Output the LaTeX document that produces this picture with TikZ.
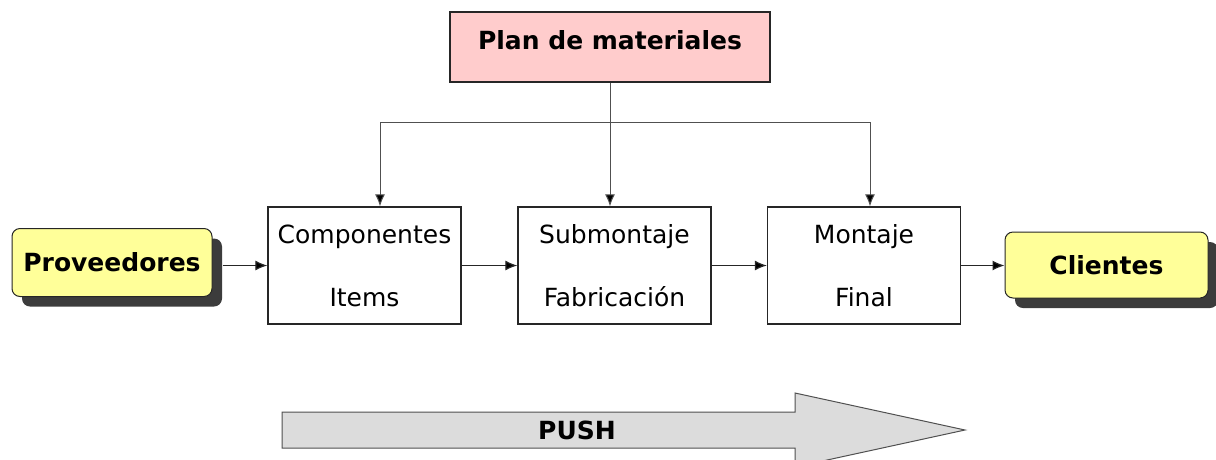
\documentclass[tikz,border=0pt]{standalone}
\usepackage{fontspec}
\setmainfont{DejaVu Sans}
\usetikzlibrary{shadows,arrows.meta}
\definecolor{planpink}{HTML}{FFCCCC}
\definecolor{provyellow}{HTML}{FFFF99}
\definecolor{shadowgray}{HTML}{3C3C3C}
\definecolor{linegray}{HTML}{505050}
\definecolor{pushgray}{HTML}{DCDCDC}
\tikzset{
  txt/.style={font=\fontsize{25}{30}\selectfont},
  btxt/.style={font=\fontsize{25}{30}\selectfont\bfseries},
  planbox/.style={draw=black!85, line width=1.3pt, fill=planpink, minimum width=320pt, minimum height=70pt, inner sep=0pt},
  procbox/.style={draw=black!85, line width=1.3pt, fill=white, minimum width=193pt, minimum height=117pt, inner sep=0pt, align=center, font=\fontsize{25}{63}\selectfont},
  endbox/.style={draw=black!85, line width=1pt, fill=provyellow, rounded corners=8pt, inner sep=0pt, font=\fontsize{25}{30}\selectfont\bfseries,
    drop shadow={shadow xshift=10pt, shadow yshift=-10pt, fill=shadowgray, opacity=1}},
  conn/.style={draw=linegray, line width=1pt},
  arr/.style={conn, -{Latex[length=12pt,width=10pt,fill=black]}},
  harr/.style={draw=black!85, line width=1.2pt, -{Latex[length=12pt,width=10pt,fill=black]}},
}
\begin{document}
\begin{tikzpicture}[x=1pt,y=-1pt]
\useasboundingbox (0,0) rectangle (1216,459);
% top plan box
\node[planbox] (plan) at (610,47) {};
\node[btxt] (plantxt) at (610,40) {Plan de materiales};
% process boxes
\node[procbox] (comp) at (364.5,265.5) {Componentes\\Items};
\node[procbox] (sub) at (614.5,265.5) {Submontaje\\Fabricación};
\node[procbox] (mont) at (864,265.5) {Montaje\\Final};
% end boxes
\node[endbox, minimum width=200pt, minimum height=68pt] (prov) at (112,262.5) {Proveedores};
\node[endbox, minimum width=203pt, minimum height=66pt] (cli) at (1106.5,265) {Clientes};
% feed lines
\coordinate (split) at (610,122);
\coordinate (lft) at (380,122);
\coordinate (rgt) at (870,122);
\draw[conn] (plan.south) -- (split);
\draw[conn] (lft) -- (rgt);
\draw[arr] (lft) -- (lft |- comp.north);
\draw[arr] (split) -- (split |- sub.north);
\draw[arr] (rgt) -- (rgt |- mont.north);
% flow arrows
\draw[harr] ([xshift=10pt]prov.east |- comp.west) -- (comp.west);
\draw[harr] (comp.east) -- (sub.west);
\draw[harr] (sub.east) -- (mont.west);
\draw[harr] (mont.east) -- (mont.east -| cli.west);
% push arrow
\draw[fill=pushgray, draw=linegray, line width=1pt]
  (282,412) -- (795,412) -- (795,393) -- (965,430) -- (795,467) -- (795,448) -- (282,448) -- cycle;
\node[btxt] (push) at (577,430) {PUSH};
\end{tikzpicture}
\end{document}
